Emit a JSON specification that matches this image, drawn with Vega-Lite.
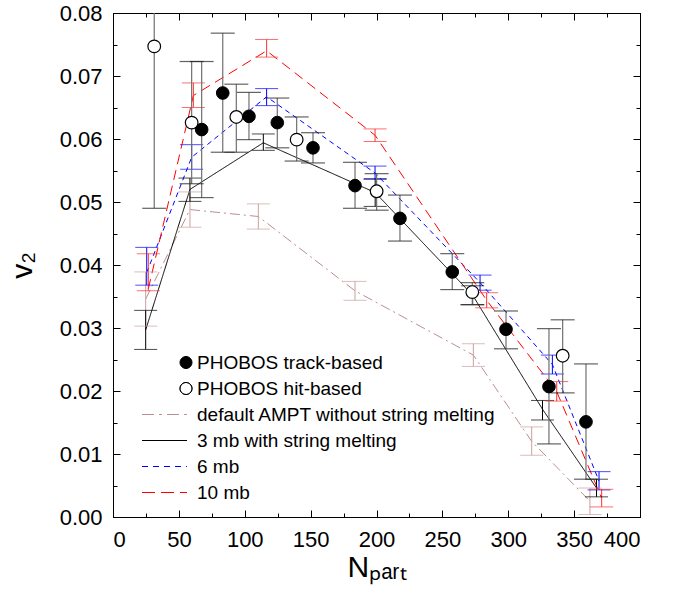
{
  "$schema": "https://vega.github.io/schema/vega-lite/v6.json",
  "width": 527,
  "height": 504,
  "autosize": {"type": "none"},
  "padding": {"left": 113, "top": 13, "right": 43, "bottom": 81},
  "background": "white",
  "config": {
    "view": {"stroke": "black", "strokeWidth": 1},
    "font": "Liberation Sans",
    "axis": {
      "grid": false,
      "domainColor": "black",
      "tickColor": "black",
      "labelColor": "black",
      "titleColor": "black",
      "labelFont": "Liberation Sans",
      "titleFont": "Liberation Sans",
      "labelFontSize": 22,
      "titleFontWeight": "normal",
      "domainWidth": 1,
      "tickWidth": 1
    }
  },
  "data": {
    "values": [
      {"s": "PHOBOS track-based", "N": 67.3, "v2": 0.0615, "lo": 0.0507, "hi": 0.0723},
      {"s": "PHOBOS track-based", "N": 83.3, "v2": 0.0673, "lo": 0.0579, "hi": 0.0768},
      {"s": "PHOBOS track-based", "N": 103.2, "v2": 0.0636, "lo": 0.0599, "hi": 0.0674},
      {"s": "PHOBOS track-based", "N": 124.7, "v2": 0.0626, "lo": 0.0586, "hi": 0.0665},
      {"s": "PHOBOS track-based", "N": 151.8, "v2": 0.0586, "lo": 0.0562, "hi": 0.061},
      {"s": "PHOBOS track-based", "N": 183.7, "v2": 0.0526, "lo": 0.049, "hi": 0.0563},
      {"s": "PHOBOS track-based", "N": 217.8, "v2": 0.0474, "lo": 0.0438, "hi": 0.0511},
      {"s": "PHOBOS track-based", "N": 257.5, "v2": 0.0389, "lo": 0.0361, "hi": 0.0418},
      {"s": "PHOBOS track-based", "N": 298.3, "v2": 0.0298, "lo": 0.0267, "hi": 0.0327},
      {"s": "PHOBOS track-based", "N": 330.9, "v2": 0.0207, "lo": 0.0116, "hi": 0.0299},
      {"s": "PHOBOS track-based", "N": 359, "v2": 0.0151, "lo": 0.006, "hi": 0.0243},
      {"s": "PHOBOS hit-based", "N": 31.3, "v2": 0.0747, "lo": 0.049, "hi": 0.1004},
      {"s": "PHOBOS hit-based", "N": 59.7, "v2": 0.0626, "lo": 0.0529, "hi": 0.0723},
      {"s": "PHOBOS hit-based", "N": 93.6, "v2": 0.0635, "lo": 0.0579, "hi": 0.0687},
      {"s": "PHOBOS hit-based", "N": 139.4, "v2": 0.0599, "lo": 0.0565, "hi": 0.0635},
      {"s": "PHOBOS hit-based", "N": 200.1, "v2": 0.0517, "lo": 0.0487, "hi": 0.0545},
      {"s": "PHOBOS hit-based", "N": 272.7, "v2": 0.0357, "lo": 0.0337, "hi": 0.0372},
      {"s": "PHOBOS hit-based", "N": 341.3, "v2": 0.0256, "lo": 0.0197, "hi": 0.0313},
      {"s": "default AMPT without string melting", "N": 24.8, "v2": 0.0346, "lo": 0.0303, "hi": 0.0389},
      {"s": "default AMPT without string melting", "N": 58.4, "v2": 0.0488, "lo": 0.046, "hi": 0.0516},
      {"s": "default AMPT without string melting", "N": 110.3, "v2": 0.0477, "lo": 0.0457, "hi": 0.0497},
      {"s": "default AMPT without string melting", "N": 183.7, "v2": 0.0359, "lo": 0.0344, "hi": 0.0374},
      {"s": "default AMPT without string melting", "N": 273.5, "v2": 0.0257, "lo": 0.0239, "hi": 0.0275},
      {"s": "default AMPT without string melting", "N": 317.8, "v2": 0.012, "lo": 0.0098, "hi": 0.0143},
      {"s": "default AMPT without string melting", "N": 362, "v2": 0.0025, "lo": 0.0004, "hi": 0.0046},
      {"s": "3 mb with string melting", "N": 24.8, "v2": 0.0297, "lo": 0.0266, "hi": 0.0328},
      {"s": "3 mb with string melting", "N": 58.4, "v2": 0.052, "lo": 0.0501, "hi": 0.0538},
      {"s": "3 mb with string melting", "N": 114.1, "v2": 0.0594, "lo": 0.0582, "hi": 0.0608},
      {"s": "3 mb with string melting", "N": 199, "v2": 0.0515, "lo": 0.0493, "hi": 0.0537},
      {"s": "3 mb with string melting", "N": 273, "v2": 0.0352, "lo": 0.0337, "hi": 0.0367},
      {"s": "3 mb with string melting", "N": 326, "v2": 0.0171, "lo": 0.0154, "hi": 0.0185},
      {"s": "3 mb with string melting", "N": 367, "v2": 0.0046, "lo": 0.0032, "hi": 0.006},
      {"s": "6 mb", "N": 25.6, "v2": 0.0388, "lo": 0.0368, "hi": 0.0428},
      {"s": "6 mb", "N": 59.7, "v2": 0.0571, "lo": 0.0552, "hi": 0.0591},
      {"s": "6 mb", "N": 116.6, "v2": 0.0667, "lo": 0.0653, "hi": 0.068},
      {"s": "6 mb", "N": 198.9, "v2": 0.0546, "lo": 0.0536, "hi": 0.0557},
      {"s": "6 mb", "N": 278.6, "v2": 0.0372, "lo": 0.036, "hi": 0.0384},
      {"s": "6 mb", "N": 333.5, "v2": 0.0242, "lo": 0.0227, "hi": 0.0257},
      {"s": "6 mb", "N": 368.9, "v2": 0.0057, "lo": 0.0043, "hi": 0.0072},
      {"s": "10 mb", "N": 26.8, "v2": 0.0362, "lo": 0.0359, "hi": 0.0418},
      {"s": "10 mb", "N": 61, "v2": 0.0669, "lo": 0.065, "hi": 0.0689},
      {"s": "10 mb", "N": 116.6, "v2": 0.074, "lo": 0.073, "hi": 0.0758},
      {"s": "10 mb", "N": 198.9, "v2": 0.0606, "lo": 0.0596, "hi": 0.0616},
      {"s": "10 mb", "N": 283.6, "v2": 0.0344, "lo": 0.0332, "hi": 0.0356},
      {"s": "10 mb", "N": 336.8, "v2": 0.0199, "lo": 0.0184, "hi": 0.0215},
      {"s": "10 mb", "N": 370.9, "v2": 0.003, "lo": 0.0016, "hi": 0.0044}
    ]
  },
  "resolve": {"axis": {"x": "independent", "y": "independent"}},
  "layer": [
    {
      "transform": [{"filter": "indexof(['PHOBOS track-based','PHOBOS hit-based'], datum.s) < 0"}],
      "mark": {"type": "line", "strokeWidth": 1, "clip": true},
      "encoding": {
        "x": {"field": "N", "type": "quantitative", "scale": {"domain": [0, 400], "nice": false, "zero": false},
          "axis": {"orient": "bottom", "values": [0, 50, 100, 150, 200, 250, 300, 350, 400], "format": "d", "tickSize": -7, "labelPadding": 19, "title": "Nₚₐᵣₜ", "titleFontSize": 30, "titlePadding": 2}},
        "y": {"field": "v2", "type": "quantitative", "scale": {"domain": [0, 0.08], "nice": false, "zero": false},
          "axis": {"orient": "left", "values": [0, 0.01, 0.02, 0.03, 0.04, 0.05, 0.06, 0.07, 0.08], "format": ".2f", "tickSize": -7, "labelPadding": 18, "title": "v₂", "titleFontSize": 30, "titlePadding": 22}},
        "color": {"field": "s", "type": "nominal",
          "scale": {"domain": ["PHOBOS track-based", "PHOBOS hit-based", "default AMPT without string melting", "3 mb with string melting", "6 mb", "10 mb"],
            "range": ["black", "black", "#bc8f8f", "black", "blue", "red"]},
          "legend": {
            "orient": "none", "legendX": 42, "legendY": 340, "title": null, "padding": 0,
            "symbolSize": 324, "symbolStrokeWidth": 1, "rowPadding": 6,
            "labelFontSize": 19, "labelFont": "Liberation Sans", "labelColor": "black", "labelLimit": 600, "labelOffset": 23,
            "encode": {
              "symbols": {
                "update": {
                  "shape": {"signal": "datum.value == 'PHOBOS track-based' ? 'M 1.722 0 A 0.667 0.667 0 1 0 3.056 0 A 0.667 0.667 0 1 0 1.722 0 Z' : (datum.value == 'PHOBOS hit-based' ? 'M 1.722 0 A 0.667 0.667 0 1 0 3.056 0 A 0.667 0.667 0 1 0 1.722 0 Z M 1.722 0 A 0.667 0.667 0 1 1 3.056 0 A 0.667 0.667 0 1 1 1.722 0 Z' : 'M -2.5 0 L 2.5 0')"},
                  "fill": {"signal": "datum.value == 'PHOBOS track-based' ? 'black' : (datum.value == 'PHOBOS hit-based' ? 'white' : 'transparent')"},
                  "stroke": {"signal": "datum.value == '6 mb' ? 'blue' : (datum.value == '10 mb' ? 'red' : (datum.value == 'default AMPT without string melting' ? '#bc8f8f' : 'black'))"},
                  "strokeDash": {"signal": "datum.value == '6 mb' ? [6,5] : (datum.value == '10 mb' ? [13,6] : (datum.value == 'default AMPT without string melting' ? [12,5,3,5] : []))"},
                  "opacity": {"value": 1}
                }
              }
            }
          }},
        "strokeDash": {"field": "s", "type": "nominal",
          "scale": {"domain": ["default AMPT without string melting", "3 mb with string melting", "6 mb", "10 mb"],
            "range": [[10, 4, 2, 4], [1, 0], [5, 4], [10, 6]]},
          "legend": null}
      }
    },
    {
      "transform": [{"filter": "indexof(['PHOBOS track-based','PHOBOS hit-based'], datum.s) < 0"}],
      "mark": {"type": "rule", "strokeWidth": 1, "clip": true},
      "encoding": {
        "x": {"field": "N", "type": "quantitative", "scale": {"domain": [0, 400], "nice": false, "zero": false},
          "axis": {"orient": "top", "values": [0, 50, 100, 150, 200, 250, 300, 350, 400], "tickSize": -7, "labels": false, "title": null}},
        "y": {"field": "lo", "type": "quantitative", "scale": {"domain": [0, 0.08], "nice": false, "zero": false},
          "axis": {"orient": "right", "values": [0, 0.01, 0.02, 0.03, 0.04, 0.05, 0.06, 0.07, 0.08], "tickSize": -7, "labels": false, "title": null}},
        "y2": {"field": "hi"},
        "stroke": {"field": "s", "type": "nominal",
          "scale": {"domain": ["default AMPT without string melting", "3 mb with string melting", "6 mb", "10 mb"],
            "range": ["#c9a0a0", "black", "blue", "#ff3030"]},
          "legend": null}
      }
    },
    {
      "transform": [
        {"filter": "indexof(['PHOBOS track-based','PHOBOS hit-based'], datum.s) < 0"},
        {"fold": ["lo", "hi"], "as": ["which", "cap"]}
      ],
      "mark": {"type": "tick", "orient": "horizontal", "size": 23, "thickness": 1, "clip": true},
      "encoding": {
        "x": {"field": "N", "type": "quantitative", "scale": {"domain": [0, 400], "nice": false, "zero": false},
          "axis": {"orient": "bottom", "values": [25, 75, 125, 175, 225, 275, 325, 375], "tickSize": -4, "labels": false, "title": null}},
        "y": {"field": "cap", "type": "quantitative", "scale": {"domain": [0, 0.08], "nice": false, "zero": false},
          "axis": {"orient": "left", "values": [0.005, 0.015, 0.025, 0.035, 0.045, 0.055, 0.065, 0.075], "tickSize": -4, "labels": false, "title": null}},
        "fill": {"field": "s", "type": "nominal",
          "scale": {"domain": ["default AMPT without string melting", "3 mb with string melting", "6 mb", "10 mb"],
            "range": ["#c9a0a0", "black", "blue", "#ff3030"]},
          "legend": null}
      }
    },
    {
      "transform": [{"filter": "indexof(['PHOBOS track-based','PHOBOS hit-based'], datum.s) >= 0"}],
      "mark": {"type": "rule", "strokeWidth": 1.2, "color": "#707070", "clip": true},
      "encoding": {
        "x": {"field": "N", "type": "quantitative", "scale": {"domain": [0, 400], "nice": false, "zero": false},
          "axis": {"orient": "top", "values": [25, 75, 125, 175, 225, 275, 325, 375], "tickSize": -4, "labels": false, "title": null}},
        "y": {"field": "lo", "type": "quantitative", "scale": {"domain": [0, 0.08], "nice": false, "zero": false},
          "axis": {"orient": "right", "values": [0.005, 0.015, 0.025, 0.035, 0.045, 0.055, 0.065, 0.075], "tickSize": -4, "labels": false, "title": null}},
        "y2": {"field": "hi"}
      }
    },
    {
      "transform": [
        {"filter": "indexof(['PHOBOS track-based','PHOBOS hit-based'], datum.s) >= 0"},
        {"fold": ["lo", "hi"], "as": ["which", "cap"]}
      ],
      "mark": {"type": "tick", "orient": "horizontal", "size": 24, "thickness": 1.2, "color": "#202020", "clip": true},
      "encoding": {
        "x": {"field": "N", "type": "quantitative", "scale": {"domain": [0, 400], "nice": false, "zero": false}, "axis": null},
        "y": {"field": "cap", "type": "quantitative", "scale": {"domain": [0, 0.08], "nice": false, "zero": false}, "axis": null}
      }
    },
    {
      "transform": [{"filter": "datum.s == 'PHOBOS track-based'"}],
      "mark": {"type": "point", "shape": "circle", "filled": true, "size": 160, "fill": "black", "stroke": "black", "strokeWidth": 1, "opacity": 1},
      "encoding": {
        "x": {"field": "N", "type": "quantitative", "scale": {"domain": [0, 400], "nice": false, "zero": false}, "axis": null},
        "y": {"field": "v2", "type": "quantitative", "scale": {"domain": [0, 0.08], "nice": false, "zero": false}, "axis": null}
      }
    },
    {
      "transform": [{"filter": "datum.s == 'PHOBOS hit-based'"}],
      "mark": {"type": "point", "shape": "circle", "filled": true, "size": 160, "fill": "white", "stroke": "black", "strokeWidth": 1.2, "opacity": 1},
      "encoding": {
        "x": {"field": "N", "type": "quantitative", "scale": {"domain": [0, 400], "nice": false, "zero": false}, "axis": null},
        "y": {"field": "v2", "type": "quantitative", "scale": {"domain": [0, 0.08], "nice": false, "zero": false}, "axis": null}
      }
    }
  ]
}
